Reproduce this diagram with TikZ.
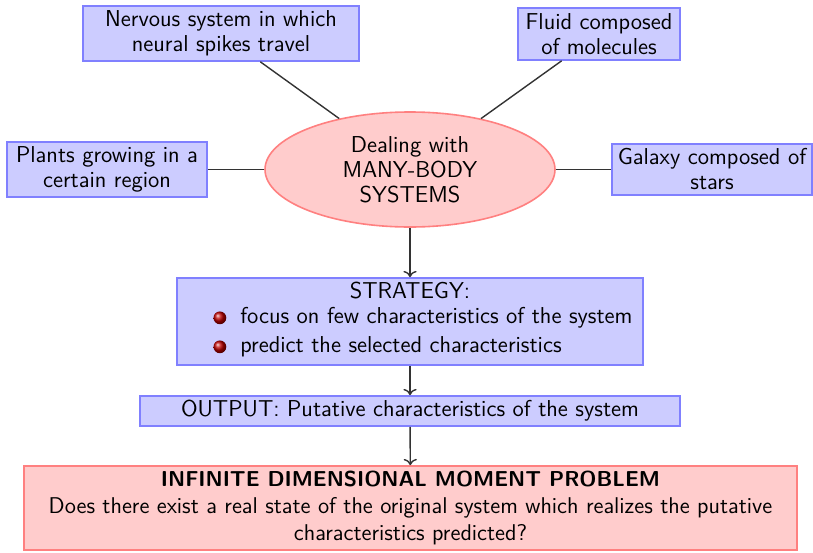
\documentclass[tikz,border=0pt]{standalone}
\usetikzlibrary{shapes.geometric,arrows.meta}
\newcommand{\mybul}{\tikz[baseline=-0.6ex]\shade[ball color=red!75!black] (0,0) circle (3.2pt);}
\newcommand{\myfont}{\sffamily\fontsize{11.5}{12.5}\selectfont}
\tikzset{
  bluebox/.style={rectangle, draw=blue!50, fill=blue!20, line width=0.8pt, align=center, inner sep=0pt, font=\myfont},
  redbox/.style={rectangle, draw=red!50, fill=red!20, line width=0.8pt, align=center, inner sep=0pt, font=\myfont},
  redell/.style={ellipse, draw=red!50, fill=red!20, line width=0.8pt, align=center, inner sep=0pt, font=\myfont},
  link/.style={draw=black!80, line width=0.7pt},
  flow/.style={draw=black!80, line width=0.7pt, ->}
}
\begin{document}
\begin{tikzpicture}[x=0.5pt, y=-0.5pt]
\useasboundingbox (0,0) rectangle (813,552);
\node[redell, minimum width=145pt, minimum height=57.5pt] (core) at (410,169.5) {Dealing with\\MANY-BODY\\SYSTEMS};
\node[bluebox, minimum width=138pt, minimum height=27.5pt] (nerv) at (221,33.5) {Nervous system in which\\neural spikes travel};
\node[bluebox, minimum width=81pt, minimum height=26pt] (fluid) at (599,34) {Fluid composed\\of molecules};
\node[bluebox, minimum width=100pt, minimum height=27.5pt] (plant) at (107,169.5) {Plants growing in a\\certain region};
\node[bluebox, minimum width=100pt, minimum height=25.5pt] (gal) at (712,169.5) {Galaxy composed of\\stars};
\node[bluebox, minimum width=233pt, minimum height=43.5pt] (strat) at (410,321.5) {STRATEGY:\\[2.5pt]\hspace*{13pt}\begin{tabular}{@{}l@{}}\mybul\hspace{7pt}focus on few characteristics of the system\\[2pt]\mybul\hspace{7pt}predict the selected characteristics\end{tabular}};
\node[bluebox, minimum width=270pt, minimum height=15pt] (out) at (410,411) {OUTPUT: Putative characteristics of the system};
\node[redbox, minimum width=386.5pt, minimum height=42pt, font=\sffamily\fontsize{11.4}{13.5}\selectfont] (prob) at (410.5,508) {{\bfseries\fontsize{10.8}{13.5}\selectfont INFINITE DIMENSIONAL MOMENT PROBLEM}\\Does there exist a real state of the original system which realizes the putative\\characteristics predicted?};
\draw[link] (nerv) -- (core);
\draw[link] (fluid) -- (core);
\draw[link] (plant) -- (core);
\draw[link] (gal) -- (core);
\draw[flow] (core) -- (strat);
\draw[flow] (strat) -- (out);
\draw[flow] (out) -- (prob);
\end{tikzpicture}
\end{document}
